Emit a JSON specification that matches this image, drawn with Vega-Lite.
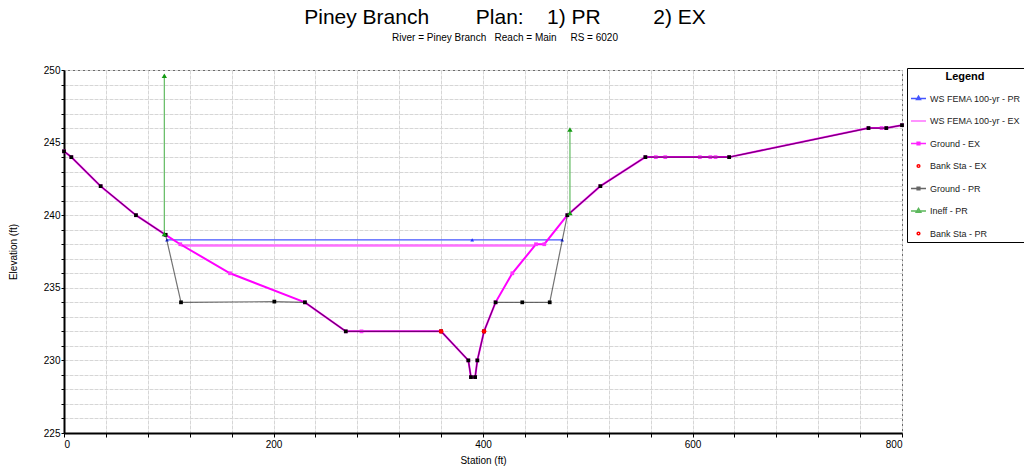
{
  "$schema": "https://vega.github.io/schema/vega-lite/v6.json",
  "width": 838,
  "height": 363,
  "autosize": {"type": "none"},
  "padding": {"left": 64, "top": 70, "right": 122, "bottom": 42},
  "background": "white",
  "title": {
    "text": "Piney Branch\u00a0\u00a0\u00a0\u00a0\u00a0\u00a0\u00a0\u00a0Plan:\u00a0\u00a0\u00a0\u00a01) PR\u00a0\u00a0\u00a0\u00a0\u00a0\u00a0\u00a0\u00a0\u00a02) EX",
    "subtitle": "River = Piney Branch\u00a0\u00a0\u00a0Reach = Main\u00a0\u00a0\u00a0\u00a0\u00a0RS = 6020",
    "font": "Liberation Sans",
    "fontSize": 21,
    "fontWeight": "normal",
    "color": "#000",
    "subtitleFont": "Liberation Sans",
    "subtitleFontSize": 10,
    "subtitleColor": "#000",
    "subtitlePadding": 5,
    "anchor": "middle",
    "dx": 22,
    "offset": 22
  },
  "config": {
    "view": {"stroke": "#000", "strokeWidth": 1},
    "axis": {
      "labelFont": "Liberation Sans",
      "labelFontSize": 10,
      "labelColor": "#000",
      "titleFont": "Liberation Sans",
      "titleFontSize": 10,
      "titleFontWeight": "normal",
      "titleColor": "#000",
      "domainColor": "#000",
      "domainWidth": 2,
      "tickColor": "#000",
      "tickSize": 3,
      "gridColor": "#d6d6d6",
      "gridDash": [4, 1],
      "gridWidth": 1
    }
  },
  "datasets": {
    "pr": [
      {"station": 0, "elev": 244.4}, {"station": 7, "elev": 244}, {"station": 35, "elev": 242},
      {"station": 68.7, "elev": 240}, {"station": 97, "elev": 238.65}, {"station": 111.7, "elev": 234},
      {"station": 200.8, "elev": 234.05}, {"station": 230, "elev": 234}, {"station": 269, "elev": 232},
      {"station": 360, "elev": 232}, {"station": 386, "elev": 230}, {"station": 388.5, "elev": 228.85},
      {"station": 392.5, "elev": 228.85}, {"station": 394.6, "elev": 230}, {"station": 401, "elev": 232},
      {"station": 412, "elev": 234}, {"station": 437.5, "elev": 234}, {"station": 463.7, "elev": 234},
      {"station": 480.5, "elev": 240}, {"station": 512, "elev": 242}, {"station": 555, "elev": 244},
      {"station": 635, "elev": 244}, {"station": 768, "elev": 246}, {"station": 785, "elev": 246},
      {"station": 800, "elev": 246.2}
    ],
    "ex": [
      {"station": 0, "elev": 244.4}, {"station": 7, "elev": 244}, {"station": 35, "elev": 242},
      {"station": 68.7, "elev": 240}, {"station": 97, "elev": 238.65}, {"station": 111, "elev": 238},
      {"station": 158.5, "elev": 236}, {"station": 230, "elev": 234}, {"station": 269, "elev": 232},
      {"station": 284, "elev": 232}, {"station": 360, "elev": 232}, {"station": 386, "elev": 230},
      {"station": 388.5, "elev": 228.85}, {"station": 392.5, "elev": 228.85}, {"station": 394.6, "elev": 230},
      {"station": 401, "elev": 232}, {"station": 412, "elev": 234}, {"station": 428, "elev": 236},
      {"station": 450.6, "elev": 238}, {"station": 458.5, "elev": 238}, {"station": 480.5, "elev": 240},
      {"station": 512, "elev": 242}, {"station": 555, "elev": 244}, {"station": 565, "elev": 244},
      {"station": 574, "elev": 244}, {"station": 607, "elev": 244}, {"station": 617, "elev": 244},
      {"station": 622, "elev": 244}, {"station": 635, "elev": 244}, {"station": 768, "elev": 246},
      {"station": 780.5, "elev": 246}, {"station": 785, "elev": 246}, {"station": 800, "elev": 246.2}
    ],
    "wspr": [
      {"station": 98.3, "elev": 238.3}, {"station": 389.7, "elev": 238.3}, {"station": 475.6, "elev": 238.3}
    ],
    "wsex": [
      {"station": 111.5, "elev": 237.92}, {"station": 449, "elev": 237.92}
    ],
    "ineff": [
      {"seg": 1, "station": 95.8, "elev": 238.7}, {"seg": 1, "station": 95.8, "elev": 249.6},
      {"seg": 2, "station": 483, "elev": 240.15}, {"seg": 2, "station": 483, "elev": 245.9}
    ],
    "bank": [
      {"station": 360, "elev": 232}, {"station": 401, "elev": 232}
    ],
    "legend": [
      {"series": "WS FEMA 100-yr - PR", "station": 0, "elev": 225}
    ]
  },
  "encoding": {
    "x": {
      "field": "station", "type": "quantitative",
      "scale": {"domain": [0, 800], "nice": false, "zero": false},
      "axis": {
        "title": "Station (ft)",
        "values": [0, 40, 80, 120, 160, 200, 240, 280, 320, 360, 400, 440, 480, 520, 560, 600, 640, 680, 720, 760, 800],
        "labelExpr": "datum.value % 200 == 0 ? datum.label : ''",
        "labelPadding": 2,
        "titlePadding": 6,
        "tickSize": 4
      }
    },
    "y": {
      "field": "elev", "type": "quantitative",
      "scale": {"domain": [225, 250], "nice": false, "zero": false},
      "axis": {
        "title": "Elevation (ft)",
        "values": [225, 226, 227, 228, 229, 230, 231, 232, 233, 234, 235, 236, 237, 238, 239, 240, 241, 242, 243, 244, 245, 246, 247, 248, 249, 250],
        "labelExpr": "datum.value % 5 == 0 ? datum.label : ''",
        "labelPadding": 1,
        "titlePadding": 25
      }
    }
  },
  "layer": [
    {
      "data": {"name": "wsex"},
      "mark": {"type": "line", "color": "#ff70ff", "strokeWidth": 2.5}
    },
    {
      "data": {"name": "wspr"},
      "mark": {"type": "line", "color": "#4455ff", "strokeWidth": 1.2}
    },
    {
      "data": {"name": "wspr"},
      "mark": {"type": "point", "shape": "triangle-up", "filled": true, "color": "#2233ff", "size": 14, "opacity": 1}
    },
    {
      "data": {"name": "ex"},
      "mark": {"type": "line", "color": "#ff00ff", "strokeWidth": 2}
    },
    {
      "data": {"name": "ex"},
      "mark": {"type": "point", "shape": "square", "filled": true, "color": "#ff33ff", "size": 14, "opacity": 1}
    },
    {
      "data": {"name": "pr"},
      "mark": {"type": "line", "color": "#000000", "strokeWidth": 1.2, "opacity": 0.55}
    },
    {
      "data": {"name": "pr"},
      "mark": {"type": "point", "shape": "square", "filled": true, "color": "#000000", "size": 14, "opacity": 1}
    },
    {
      "data": {"name": "bank"},
      "mark": {"type": "point", "shape": "circle", "filled": true, "color": "#ff0000", "size": 22, "opacity": 1}
    },
    {
      "data": {"name": "ineff"},
      "mark": {"type": "line", "color": "#6cbf6c", "strokeWidth": 1.3},
      "encoding": {"detail": {"field": "seg", "type": "nominal"}}
    },
    {
      "data": {"name": "ineff"},
      "mark": {"type": "point", "shape": "triangle-up", "filled": true, "color": "#129a12", "size": 28, "opacity": 1}
    },
    {
      "data": {"name": "legend"},
      "transform": [{"filter": "false"}],
      "mark": {"type": "point", "filled": false, "strokeWidth": 1.5, "opacity": 1},
      "encoding": {
        "color": {
          "field": "series", "type": "nominal",
          "scale": {
            "domain": ["WS FEMA 100-yr - PR", "WS FEMA 100-yr - EX", "Ground - EX", "Bank Sta - EX", "Ground - PR", "Ineff - PR", "Bank Sta - PR"],
            "range": ["#4455ff", "#ff70ff", "#ff22ff", "#ff0000", "#666666", "#5cb85c", "#ff0000"]
          },
          "legend": {
            "title": "Legend",
            "orient": "none",
            "legendX": 843,
            "legendY": -2,
            "titleFont": "Liberation Sans",
            "titleFontSize": 11,
            "titleFontWeight": "bold",
            "titleColor": "#000",
            "titleAnchor": "middle",
            "titlePadding": 8,
            "labelFont": "Liberation Sans",
            "labelFontSize": 9,
            "labelColor": "#222",
            "labelLimit": 200,
            "labelOffset": 3,
            "symbolSize": 225,
            "symbolStrokeWidth": 1.5,
            "rowPadding": 8.5,
            "padding": 3,
            "strokeColor": "#000",
            "fillColor": "#ffffff"
          }
        },
        "shape": {
          "field": "series", "type": "nominal",
          "scale": {
            "domain": ["WS FEMA 100-yr - PR", "WS FEMA 100-yr - EX", "Ground - EX", "Bank Sta - EX", "Ground - PR", "Ineff - PR", "Bank Sta - PR"],
            "range": [
              "M-1,0H1M0,-0.3L0.26,0.14L-0.26,0.14Z",
              "M-1,0H1",
              "M-1,0H1M-0.18,-0.18H0.18V0.18H-0.18Z",
              "M-0.18,0A0.18,0.18 0 1,0 0.18,0A0.18,0.18 0 1,0 -0.18,0Z",
              "M-1,0H1M-0.18,-0.18H0.18V0.18H-0.18Z",
              "M-1,0H1M0,-0.34L0.3,0.16L-0.3,0.16Z",
              "M-0.18,0A0.18,0.18 0 1,0 0.18,0A0.18,0.18 0 1,0 -0.18,0Z"
            ]
          },
          "legend": {
            "title": "Legend",
            "orient": "none",
            "legendX": 843,
            "legendY": -2
          }
        }
      }
    }
  ]
}
